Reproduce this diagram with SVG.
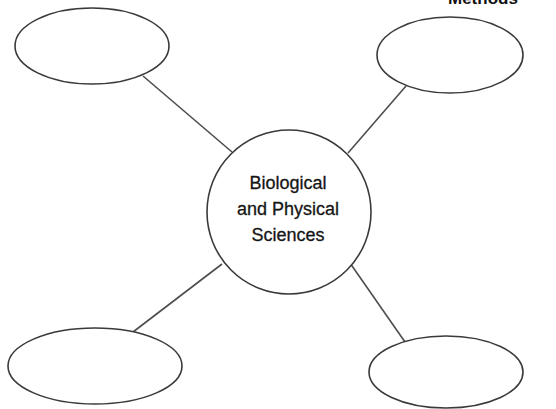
<svg xmlns="http://www.w3.org/2000/svg" width="556" height="409" viewBox="0 0 556 409">
  <style>
    .bubble { fill: #ffffff; stroke: #3a3a3a; stroke-width: 1.6; }
    .link { stroke: #4d4d4d; stroke-width: 1.6; fill: none; }
    .hub-label { font-family: "Liberation Sans", "Open Sans", sans-serif; font-size: 18px; fill: #161616; stroke: #161616; stroke-width: 0.3; text-anchor: middle; }
    .head { font-family: "Liberation Sans", sans-serif; font-size: 17px; font-weight: bold; fill: #111111; }
  </style>
  <rect width="556" height="409" fill="#ffffff"/>

  <!-- heading, running off the top edge -->
  <text class="head" x="448" y="4">Methods</text>

  <!-- connectors from the hub to each outer bubble -->
  <g id="connectors">
    <line class="link" x1="143" y1="76" x2="232" y2="152"/>
    <line class="link" x1="406" y1="86" x2="348" y2="153"/>
    <line class="link" x1="133" y1="332" x2="222" y2="264"/>
    <line class="link" x1="350" y1="263" x2="405" y2="342"/>
  </g>

  <g id="hub">
    <circle class="bubble" cx="289" cy="212" r="82"/>
    <text class="hub-label" x="288" y="189">Biological</text>
    <text class="hub-label" x="288" y="215">and Physical</text>
    <text class="hub-label" x="288" y="241">Sciences</text>
  </g>

  <g id="top-left">
    <ellipse class="bubble" cx="92" cy="46" rx="77" ry="38"/>
  </g>
  <g id="top-right">
    <ellipse class="bubble" cx="450" cy="55" rx="73" ry="38"/>
  </g>
  <g id="bottom-left">
    <ellipse class="bubble" cx="95" cy="366" rx="87" ry="38"/>
  </g>
  <g id="bottom-right">
    <ellipse class="bubble" cx="446" cy="372" rx="77" ry="36"/>
  </g>
</svg>
